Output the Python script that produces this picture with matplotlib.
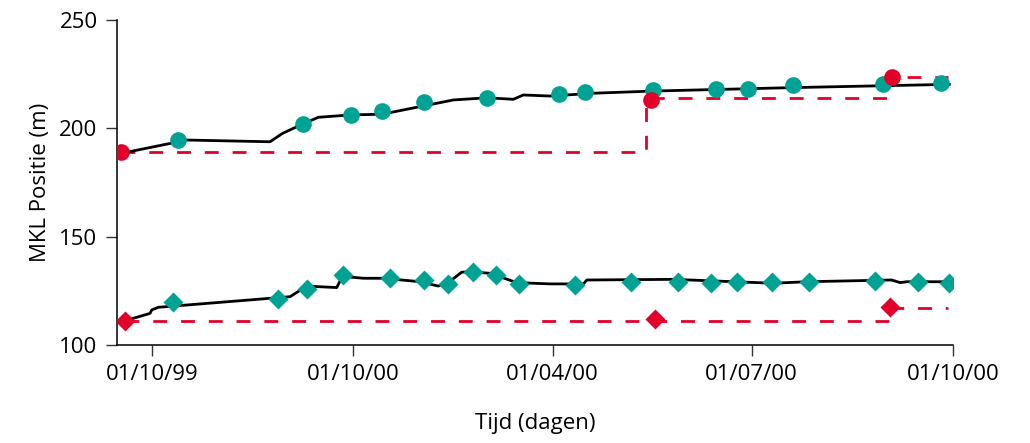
import matplotlib.pyplot as plt

plt.rcParams['font.family'] = ['Open Sans', 'DejaVu Sans']

TEAL = '#00a393'
RED = '#e2002a'

# x = dagen sinds 01/10/99
tick_days = [0, 92, 183, 274, 366]
tick_labels = ['01/10/99', '01/10/00', '01/04/00', '01/07/00', '01/10/00']

# bovenste reeks (cirkels)
up_meas_days = [11.9, 69.0, 90.9, 105.1, 124.3, 153.1, 186.0, 197.9, 228.9, 257.7, 272.3, 292.9, 334.0, 360.5]
up_meas_vals = [194.6, 202.0, 206.2, 208.0, 212.2, 214.0, 215.8, 216.7, 217.7, 218.1, 218.1, 220.0, 220.5, 221.0]
up_red_days = [-14.2, 228.0, 338.1]
up_red_vals = [189.1, 213.1, 223.7]
up_step_days = [-14.2, 225.7, 335.8, 363.7]
up_step_vals = [189.1, 214.1, 223.7, 223.7]
up_line_days = [-14.2, -10.4, 15.9, 53.9, 59.7, 68.9, 76.0, 90.8, 105.0, 137.7, 153.2, 165.1,
                169.7, 181.9, 201.6, 228.9, 292.9, 364.3]
up_line_vals = [189.1, 189.2, 194.6, 193.8, 197.7, 202.0, 205.1, 206.2, 206.5, 213.1, 214.1, 213.4,
                215.4, 214.9, 216.2, 217.2, 218.8, 220.3]

# onderste reeks (ruiten)
lo_meas_days = [9.6, 57.6, 70.8, 87.3, 108.8, 124.3, 135.3, 146.7, 157.2, 167.7, 193.3, 218.9,
                240.4, 255.4, 267.3, 283.3, 300.2, 330.4, 350.0, 364.2]
lo_meas_vals = [120.0, 121.2, 125.7, 132.3, 130.8, 130.0, 128.2, 133.6, 132.3, 128.2, 127.7, 129.2,
                129.2, 128.5, 129.2, 129.0, 129.2, 129.4, 129.2, 128.8]
lo_red_days = [-12.3, 229.8, 337.2]
lo_red_vals = [111.2, 112.0, 117.7]
lo_step_days = [-12.3, 337.2, 363.7]
lo_step_vals = [111.2, 117.1, 117.1]
lo_line_days = [-12.3, -0.9, -0.1, 2.9, 63.1, 70.7, 84.4, 86.7, 89.0, 96.6, 105.7, 122.5, 130.8,
                136.9, 141.5, 145.3, 154.4, 159.0, 166.6, 181.9, 197.1, 198.7, 238.2, 283.9,
                299.1, 338.0, 341.8, 344.9, 363.9, 366.2]
lo_line_vals = [111.2, 114.6, 116.2, 117.4, 122.3, 127.2, 126.5, 131.1, 131.5, 130.8, 130.8, 129.2,
                127.2, 130.0, 133.6, 133.8, 133.1, 131.5, 128.8, 128.2, 128.2, 130.0, 130.3, 128.5,
                129.2, 130.0, 128.8, 129.2, 129.2, 128.5]

fig = plt.figure(figsize=(10.3, 4.43), dpi=100)
ax = fig.add_axes([117 / 1030, 1 - 345 / 443, (953 - 117) / 1030, 325 / 443])

dash = (0, (5, 5))
for days, vals in [(up_step_days, up_step_vals), (lo_step_days, lo_step_vals)]:
    ax.step(days, vals, where='post', color=RED, lw=2, linestyle=dash, zorder=2)

ax.plot(up_line_days, up_line_vals, color='black', lw=2, zorder=3)
ax.plot(lo_line_days, lo_line_vals, color='black', lw=2, zorder=3)

ax.plot(up_meas_days, up_meas_vals, 'o', color=TEAL, ms=12, mec='none', zorder=4)
ax.plot(lo_meas_days, lo_meas_vals, 'D', color=TEAL, ms=10, mec='none', zorder=4)
ax.plot(up_red_days, up_red_vals, 'o', color=RED, ms=12, mec='none', zorder=5)
ax.plot(lo_red_days, lo_red_vals, 'D', color=RED, ms=10, mec='none', zorder=5)

ax.set_xlim(-16, 366)
ax.set_ylim(100, 250)
ax.set_xticks(tick_days)
ax.set_xticklabels(tick_labels)
ax.set_yticks([100, 150, 200, 250])

for s in ['top', 'right']:
    ax.spines[s].set_visible(False)
for s in ['left', 'bottom']:
    ax.spines[s].set_linewidth(1.1)
ax.tick_params(axis='both', length=8, width=1, labelsize=16, color='#333333', pad=6)

ax.set_xlabel('Tijd (dagen)', fontsize=16, labelpad=20)
ax.set_ylabel('MKL Positie (m)', fontsize=16, labelpad=6)

fig.savefig('out.png', dpi=100)
